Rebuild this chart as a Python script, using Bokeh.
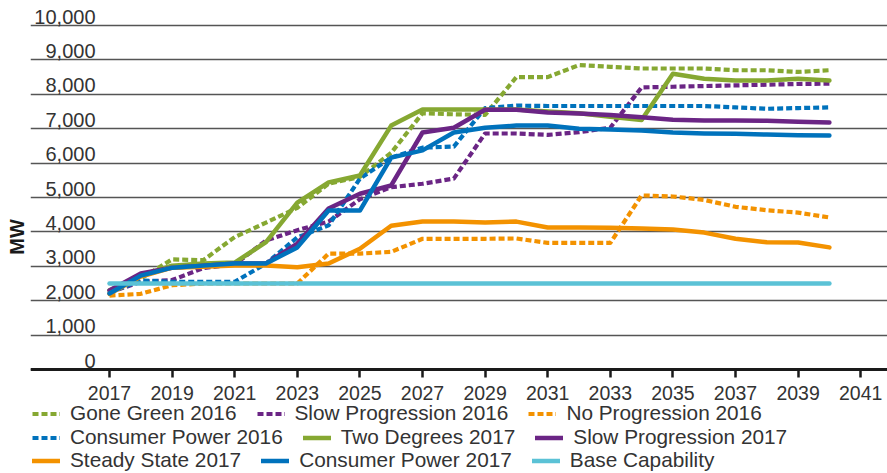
from bokeh.plotting import figure
from bokeh.models import Range1d, FixedTicker, Legend, LegendItem, ColumnDataSource
from bokeh.core.properties import value
from bokeh.embed import file_html
from bokeh.resources import INLINE

years = [2017, 2018, 2019, 2020, 2021, 2022, 2023, 2024, 2025, 2026, 2027, 2028,
         2029, 2030, 2031, 2032, 2033, 2034, 2035, 2036, 2037, 2038, 2039, 2040]

gone_green_2016 = [2240, 2650, 3200, 3180, 3850, 4270, 4700, 5400, 5600, 6300, 7450, 7420,
                   7400, 8500, 8500, 8850, 8800, 8750, 8750, 8750, 8700, 8700, 8650, 8700]
slow_progression_2016 = [2240, 2550, 2600, 2950, 3050, 3750, 4050, 4300, 4950, 5300, 5400, 5550,
                         6860, 6860, 6820, 6900, 7030, 8200, 8220, 8240, 8260, 8280, 8300, 8310]
no_progression_2016 = [2150, 2200, 2450, 2500, 2500, 2500, 2500, 3370, 3370, 3420, 3800, 3800,
                       3800, 3810, 3680, 3680, 3680, 5060, 5030, 4930, 4730, 4630, 4560, 4420]
consumer_power_2016 = [2240, 2590, 2550, 2550, 2550, 3080, 3840, 4190, 5550, 6160, 6450, 6480,
                       7600, 7670, 7660, 7660, 7660, 7660, 7660, 7660, 7620, 7580, 7600, 7620]
two_degrees_2017 = [2300, 2730, 3020, 3080, 3110, 3700, 4850, 5440, 5640, 7090, 7560, 7560,
                    7560, 7560, 7500, 7450, 7350, 7250, 8600, 8450, 8400, 8400, 8450, 8400]
slow_progression_2017 = [2300, 2790, 2960, 3020, 3080, 3080, 3660, 4680, 5110, 5350, 6890, 7030,
                         7550, 7550, 7470, 7440, 7400, 7330, 7260, 7240, 7240, 7230, 7200, 7180]
steady_state_2017 = [2200, 2700, 2960, 2990, 3020, 3020, 2970, 3080, 3510, 4180, 4300, 4300,
                     4270, 4300, 4130, 4130, 4120, 4100, 4070, 3980, 3800, 3700, 3690, 3550]
consumer_power_2017 = [2210, 2730, 2960, 3020, 3080, 3080, 3550, 4620, 4620, 6160, 6370, 6890,
                       7030, 7090, 7090, 7000, 6980, 6950, 6890, 6860, 6850, 6830, 6810, 6800]
base_capability = [2500, 2500, 2500, 2500, 2500, 2500, 2500, 2500, 2500, 2500, 2500, 2500,
                   2500, 2500, 2500, 2500, 2500, 2500, 2500, 2500, 2500, 2500, 2500, 2500]

x_ticks = [2017, 2019, 2021, 2023, 2025, 2027, 2029, 2031, 2033, 2035, 2037, 2039, 2041]
x_tick_labels = ["2017", "2019", "2021", "2023", "2025", "2027", "2029", "2031", "2033",
                 "2035", "2037", "2039", "2041"]
y_ticks = [0, 1000, 2000, 3000, 4000, 5000, 6000, 7000, 8000, 9000, 10000]
y_tick_labels = ["0", "1,000", "2,000", "3,000", "4,000", "5,000", "6,000", "7,000",
                 "8,000", "9,000", "10,000"]

series = [
    ("Gone Green 2016", gone_green_2016, "#86a832", True),
    ("Slow Progression 2016", slow_progression_2016, "#6b2585", True),
    ("No Progression 2016", no_progression_2016, "#f39200", True),
    ("Consumer Power 2016", consumer_power_2016, "#0072bc", True),
    ("Two Degrees 2017", two_degrees_2017, "#86a832", False),
    ("Slow Progression 2017", slow_progression_2017, "#6b2585", False),
    ("Steady State 2017", steady_state_2017, "#f39200", False),
    ("Consumer Power 2017", consumer_power_2017, "#0072bc", False),
    ("Base Capability", base_capability, "#5bc2d6", False),
]

FONT = "Liberation Sans"
TEXT_COLOR = "#333333"

p = figure(width=887, height=473, output_backend="svg", toolbar_location=None,
           x_range=Range1d(2014.476, 2041.856), y_range=Range1d(-3023, 10727),
           min_border_left=30, min_border_right=0, min_border_top=0, min_border_bottom=0,
           outline_line_color=None, background_fill_color="white")

# x axis drawn at the zero line (ticks point down without reserving panel space)
p.xaxis.fixed_location = 0
p.xaxis.ticker = FixedTicker(ticks=x_ticks)
p.xaxis.major_label_overrides = {t: "" for t in x_ticks}
p.xaxis.axis_line_width = 3
p.xaxis.axis_line_color = "#1a1a1a"
p.xaxis.major_tick_line_width = 2.5
p.xaxis.major_tick_line_color = "#1a1a1a"
p.xaxis.major_tick_out = 0
p.xaxis.major_tick_in = -8
p.xaxis.minor_tick_out = 0
p.xaxis.minor_tick_in = 0
p.xaxis.major_label_standoff = 0

p.yaxis.ticker = FixedTicker(ticks=y_ticks)
p.yaxis.major_label_overrides = {t: "" for t in y_ticks}
p.yaxis.major_tick_out = 0
p.yaxis.major_tick_in = 0
p.yaxis.minor_tick_out = 0
p.yaxis.minor_tick_in = 0
p.yaxis.axis_line_color = None
p.yaxis.major_label_standoff = 0
p.yaxis.axis_label = "MW"
p.yaxis.axis_label_standoff = 3
p.yaxis.axis_label_text_font = FONT
p.yaxis.axis_label_text_font_style = "bold"
p.yaxis.axis_label_text_font_size = "20px"
p.yaxis.axis_label_text_color = "#1a1a1a"

p.xgrid.visible = False
p.ygrid.grid_line_color = "#555555"
p.ygrid.grid_line_width = 1.3

# x tick labels below the zero line
xlab_src = ColumnDataSource(dict(x=x_ticks, y=[0] * len(x_ticks), t=x_tick_labels))
p.text(x="x", y="y", text="t", source=xlab_src, text_align="center", text_baseline="alphabetic",
       y_offset=23, text_font=value(FONT), text_font_size="19.5px", text_color=TEXT_COLOR)

# y tick labels placed above their gridlines, inside the plot area
ylab_src = ColumnDataSource(dict(x=[2016.553] * len(y_ticks), y=y_ticks, t=y_tick_labels))
p.text(x="x", y="y", text="t", source=ylab_src, text_align="right", text_baseline="alphabetic",
       y_offset=-9, text_font=value(FONT), text_font_size="20px", text_color=TEXT_COLOR)

renderers = {}
for name, vals, color, dashed in series:
    src = ColumnDataSource(dict(x=years, y=vals))
    if dashed:
        r = p.line("x", "y", source=src, line_color=color, line_width=4.2,
                   line_dash="6 3", line_join="round")
    else:
        r = p.line("x", "y", source=src, line_color=color, line_width=4.5,
                   line_cap="round", line_join="round")
    renderers[name] = r

rows = [
    ["Gone Green 2016", "Slow Progression 2016", "No Progression 2016"],
    ["Consumer Power 2016", "Two Degrees 2017", "Slow Progression 2017"],
    ["Steady State 2017", "Consumer Power 2017", "Base Capability"],
]
row_offsets = [48, 24, 1]
for row, off in zip(rows, row_offsets):
    leg = Legend(items=[LegendItem(label=n, renderers=[renderers[n]]) for n in row],
                 orientation="horizontal", location=(2, off),
                 padding=0, margin=0, spacing=20, label_standoff=10,
                 glyph_width=28, glyph_height=23, label_height=23,
                 label_text_font=FONT, label_text_font_size="20.8px",
                 label_text_color=TEXT_COLOR,
                 border_line_color=None, background_fill_alpha=0)
    p.add_layout(leg, "center")

open("out.html", "w").write(file_html(p, INLINE))
